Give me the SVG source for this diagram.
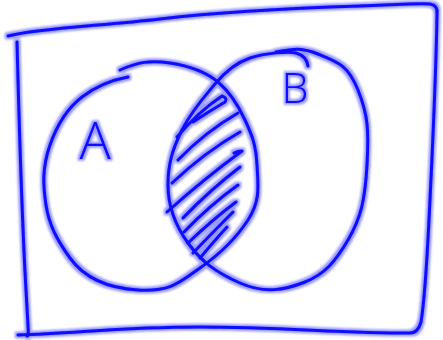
<svg xmlns="http://www.w3.org/2000/svg" width="443" height="340" viewBox="0 0 443 340">
<style>
.ink{fill:none;stroke:#0a0aff;stroke-width:3;stroke-linecap:round;stroke-linejoin:round}
.lbl{fill:#0a0aff;font-family:"Open Sans","DejaVu Sans",sans-serif;font-weight:300;text-anchor:middle}
</style>
<defs>
<filter id="glow" x="-5%" y="-5%" width="110%" height="110%">
<feMorphology operator="dilate" radius="1.5" in="SourceGraphic" result="d"/>
<feGaussianBlur in="d" stdDeviation="1" result="b"/>
<feComponentTransfer in="b" result="f"><feFuncA type="linear" slope="0.4"/></feComponentTransfer>
<feMerge><feMergeNode in="f"/><feMergeNode in="SourceGraphic"/></feMerge>
</filter>
</defs>
<rect width="443" height="340" fill="#ffffff"/>
<g filter="url(#glow)">
<g id="frame" class="ink">
<path d="M8,36 C40,28 100,26 160,19 S300,8 360,6 S420,3 430,4 Q438,5 437,14 C436,80 432,160 429,220 S423,310 421,322 Q418,333 410,333 C340,333 280,327 200,327 S80,333 18,335"/>
<path d="M17,42 C19,120 22,220 26,290 S28,325 27,336"/>
</g>
<g id="circleA" class="ink">
<path d="M128,77 C112,80 95,87 82,97 S58,122 50,145 S43,185 46,205 S57,240 70,258 S105,288 138,290 S180,282 200,268 S235,240 248,220 S258,185 257,165 S252,135 245,120 S230,92 218,82 S190,66 170,63 S138,62 120,70"/>
</g>
<g id="circleB" class="ink">
<path d="M308,66 C307,59 303,55 296,53 S265,53 250,58 S225,72 215,84 S192,110 182,130 S168,165 168,185 S175,225 188,243 S215,272 240,283 S285,290 305,282 S335,262 348,240 S365,200 367,165 S368,115 358,90 S338,62 318,54 S290,50 276,52"/>
</g>
<g id="intersection" class="ink">
<path d="M177,137 Q198,112 222,96 Q228,98 225,102 Q208,112 193,122"/>
<path d="M178,160 Q205,132 238,113"/>
<path d="M172,183 Q205,152 240,132"/>
<path d="M167,212 Q205,178 242,151 Q238,151 234,153"/>
<path d="M183,218 Q210,190 240,167"/>
<path d="M184,232 Q210,205 238,185"/>
<path d="M188,243 Q212,220 236,202"/>
<path d="M193,253 Q215,230 233,212"/>
<path d="M200,258 Q215,240 227,227"/>
</g>
<g id="labelA"><text class="lbl" x="95" y="159" font-size="52">A</text></g>
<g id="labelB"><text class="lbl" x="295" y="103" font-size="43">B</text></g>
</g>
</svg>
